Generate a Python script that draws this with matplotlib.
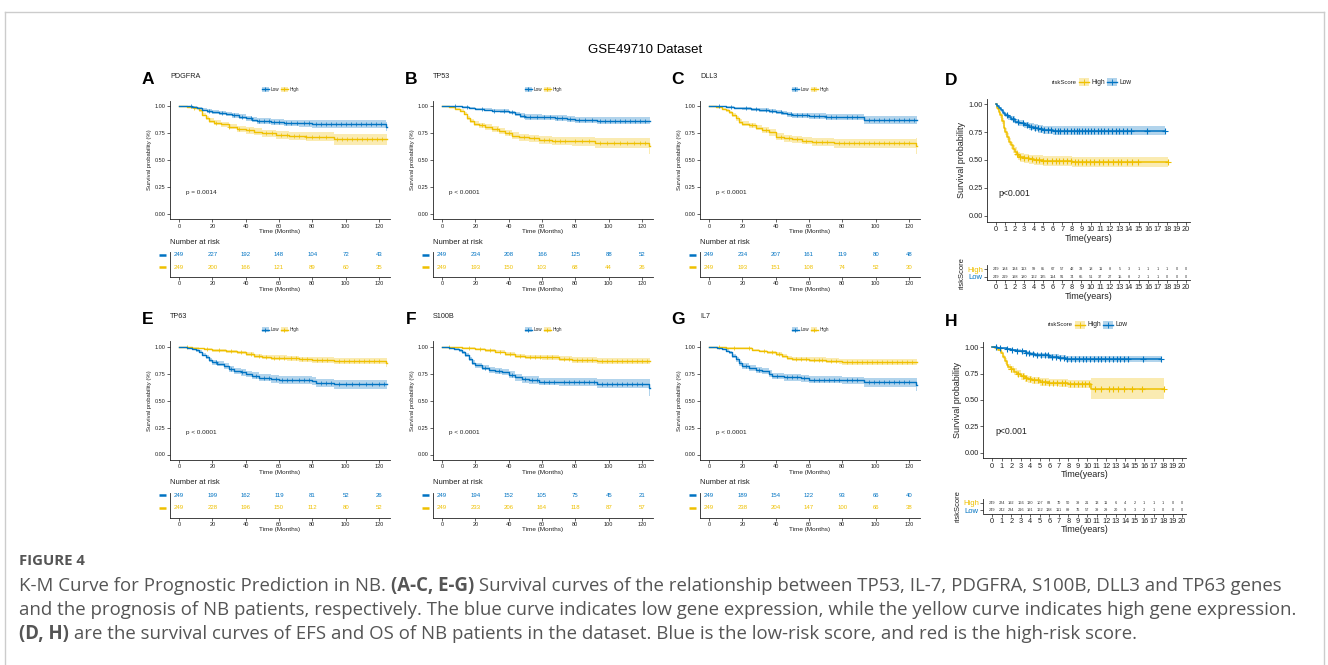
import matplotlib
matplotlib.use("Agg")
import matplotlib.pyplot as plt
from matplotlib.lines import Line2D
from matplotlib.patches import Rectangle
import numpy as np

# ---- data ---------------------------------------------------------------
MONTH_TICKS = [0, 20, 40, 60, 80, 100, 120]
YEAR_TICKS = list(range(21))
END_MONTHS = 125

# A  PDGFRA
A_low_t = [0, 4, 8, 11, 14, 17, 20, 24, 28, 32, 36, 40, 44, 47, 55, 63, 72, 80, 124]
A_low_s = [1.0, 0.996, 0.99, 0.98, 0.966, 0.955, 0.945, 0.935, 0.925, 0.914, 0.9, 0.886, 0.875, 0.857, 0.851, 0.845, 0.84, 0.832, 0.81]
A_low_ci = [0, 0.004, 0.008, 0.012, 0.015, 0.017, 0.018, 0.02, 0.021, 0.023, 0.024, 0.025, 0.027, 0.028, 0.029, 0.03, 0.032, 0.034, 0.045]
A_low_c = [7, 18, 26, 33, 38, 43, 48, 51, 54, 57, 60, 64, 67, 71, 75, 78, 82, 85, 88, 91, 94, 97, 100, 103, 106, 109, 112, 115, 118, 121]
A_high_t = [0, 5, 9, 12, 14, 16, 18, 21, 25, 30, 35, 40, 45, 50, 58, 66, 76, 93]
A_high_s = [1.0, 0.99, 0.98, 0.96, 0.92, 0.89, 0.865, 0.845, 0.83, 0.81, 0.79, 0.775, 0.762, 0.748, 0.732, 0.724, 0.715, 0.69]
A_high_ci = [0, 0.006, 0.009, 0.012, 0.017, 0.02, 0.022, 0.024, 0.025, 0.027, 0.028, 0.03, 0.031, 0.033, 0.035, 0.037, 0.04, 0.048]
A_high_c = [9, 22, 30, 36, 42, 52, 56, 61, 65, 69, 72, 76, 80, 84, 88, 95, 98, 101, 104, 107, 110, 113, 116, 119, 122]
A_risk_low = [249, 227, 192, 148, 104, 72, 43]
A_risk_high = [249, 200, 166, 121, 89, 60, 35]

# B  TP53
B_low_t = [0, 6, 12, 16, 20, 25, 30, 35, 40, 44, 47, 50, 60, 68, 75, 80, 93]
B_low_s = [1.0, 0.996, 0.99, 0.983, 0.975, 0.967, 0.958, 0.952, 0.94, 0.926, 0.91, 0.9, 0.895, 0.888, 0.878, 0.872, 0.865]
B_low_ci = [0, 0.004, 0.007, 0.009, 0.011, 0.013, 0.015, 0.016, 0.018, 0.021, 0.023, 0.025, 0.026, 0.027, 0.029, 0.03, 0.033]
B_low_c = [8, 15, 24, 31, 37, 42, 49, 53, 57, 61, 65, 69, 72, 77, 82, 86, 90, 95, 98, 101, 104, 107, 110, 113, 116, 119, 122]
B_high_t = [0, 4, 8, 11, 13, 15, 17, 19, 22, 26, 30, 34, 38, 42, 46, 52, 58, 66, 78, 92, 124]
B_high_s = [1.0, 0.99, 0.975, 0.955, 0.93, 0.89, 0.86, 0.835, 0.82, 0.805, 0.79, 0.77, 0.75, 0.725, 0.71, 0.70, 0.685, 0.678, 0.672, 0.656, 0.63]
B_high_ci = [0, 0.006, 0.01, 0.013, 0.016, 0.02, 0.022, 0.024, 0.025, 0.026, 0.027, 0.028, 0.03, 0.031, 0.032, 0.034, 0.035, 0.037, 0.04, 0.045, 0.07]
B_high_c = [24, 33, 40, 49, 55, 61, 64, 68, 71, 74, 80, 84, 88, 95, 99, 103, 107, 111, 115, 119, 122]
B_risk_low = [249, 234, 208, 166, 125, 88, 52]
B_risk_high = [249, 193, 150, 103, 68, 44, 26]

# C  DLL3
C_low_t = [0, 5, 10, 15, 20, 25, 30, 36, 40, 44, 47, 50, 60, 70, 80, 93]
C_low_s = [1.0, 0.996, 0.99, 0.984, 0.977, 0.97, 0.963, 0.955, 0.948, 0.935, 0.922, 0.915, 0.907, 0.9, 0.895, 0.87]
C_low_ci = [0, 0.004, 0.007, 0.009, 0.011, 0.013, 0.015, 0.016, 0.018, 0.02, 0.022, 0.024, 0.025, 0.027, 0.029, 0.035]
C_low_c = [6, 13, 22, 28, 34, 38, 43, 49, 53, 56, 59, 63, 66, 70, 73, 76, 83, 86, 89, 96, 99, 102, 105, 108, 111, 114, 117, 120, 123]
C_high_t = [0, 4, 8, 10, 12, 14, 16, 18, 20, 24, 28, 32, 36, 40, 45, 50, 56, 62, 75, 124]
C_high_s = [1.0, 0.99, 0.975, 0.96, 0.94, 0.915, 0.885, 0.855, 0.835, 0.82, 0.8, 0.78, 0.755, 0.715, 0.7, 0.69, 0.68, 0.67, 0.655, 0.63]
C_high_c = [26, 34, 43, 48, 53, 58, 64, 68, 71, 78, 81, 84, 87, 90, 93, 96, 99, 102, 105, 108, 111, 114, 117, 120]
C_high_ci = [0, 0.006, 0.01, 0.012, 0.014, 0.017, 0.02, 0.022, 0.024, 0.025, 0.026, 0.028, 0.03, 0.031, 0.032, 0.033, 0.035, 0.036, 0.04, 0.07]
C_risk_low = [249, 234, 207, 161, 119, 80, 48]
C_risk_high = [249, 193, 151, 108, 74, 52, 30]

# E  TP63
E_low_t = [0, 5, 8, 10, 12, 14, 16, 18, 20, 23, 27, 30, 33, 37, 40, 44, 48, 55, 60, 80, 82, 93]
E_low_s = [1.0, 0.99, 0.975, 0.965, 0.95, 0.925, 0.9, 0.875, 0.855, 0.84, 0.82, 0.795, 0.775, 0.76, 0.745, 0.73, 0.71, 0.70, 0.688, 0.68, 0.662, 0.652]
E_low_ci = [0, 0.006, 0.01, 0.012, 0.014, 0.016, 0.019, 0.021, 0.023, 0.024, 0.025, 0.027, 0.028, 0.029, 0.03, 0.031, 0.032, 0.034, 0.035, 0.038, 0.039, 0.042]
E_low_c = [22, 31, 38, 46, 51, 54, 58, 62, 65, 68, 72, 75, 78, 85, 88, 91, 96, 100, 104, 108, 112, 116, 120, 123]
E_high_t = [0, 8, 12, 15, 20, 28, 35, 40, 45, 50, 55, 65, 72, 80, 93, 124]
E_high_s = [1.0, 0.99, 0.982, 0.975, 0.963, 0.955, 0.945, 0.93, 0.915, 0.905, 0.898, 0.89, 0.882, 0.877, 0.868, 0.85]
E_high_ci = [0, 0.004, 0.006, 0.008, 0.011, 0.013, 0.015, 0.017, 0.019, 0.02, 0.021, 0.023, 0.024, 0.026, 0.029, 0.04]
E_high_c = [5, 17, 24, 31, 37, 43, 48, 52, 57, 60, 63, 67, 70, 74, 77, 83, 86, 89, 96, 99, 102, 105, 108, 111, 114, 117, 120]
E_risk_low = [249, 199, 162, 119, 81, 52, 26]
E_risk_high = [249, 228, 196, 150, 112, 80, 52]

# F  S100B
F_low_t = [0, 4, 7, 10, 12, 14, 16, 18, 20, 24, 28, 32, 36, 40, 44, 48, 52, 58, 70, 93, 124]
F_low_s = [1.0, 0.99, 0.98, 0.965, 0.945, 0.92, 0.885, 0.85, 0.825, 0.805, 0.785, 0.772, 0.765, 0.74, 0.715, 0.698, 0.69, 0.675, 0.668, 0.655, 0.62]
F_low_ci = [0, 0.006, 0.009, 0.012, 0.015, 0.018, 0.021, 0.023, 0.025, 0.026, 0.027, 0.028, 0.029, 0.03, 0.031, 0.032, 0.033, 0.035, 0.036, 0.04, 0.08]
F_low_c = [26, 34, 42, 50, 54, 57, 61, 64, 67, 73, 76, 79, 82, 85, 88, 91, 96, 99, 102, 105, 108, 111, 114, 117, 120]
F_high_t = [0, 6, 12, 20, 26, 32, 38, 44, 50, 60, 70, 78, 93]
F_high_s = [1.0, 0.995, 0.985, 0.975, 0.963, 0.95, 0.93, 0.915, 0.905, 0.9, 0.888, 0.876, 0.865]
F_high_ci = [0, 0.004, 0.007, 0.01, 0.012, 0.014, 0.016, 0.018, 0.02, 0.021, 0.023, 0.025, 0.03]
F_high_c = [4, 16, 23, 29, 35, 41, 47, 53, 56, 59, 63, 66, 73, 76, 81, 84, 87, 90, 96, 99, 102, 105, 108, 111, 114, 117, 120, 123]
F_risk_low = [249, 194, 152, 105, 75, 45, 21]
F_risk_high = [249, 233, 206, 164, 118, 87, 57]

# G  IL7
G_low_t = [0, 5, 8, 10, 12, 14, 16, 18, 20, 24, 28, 32, 36, 38, 45, 55, 60, 80, 93, 124]
G_low_s = [1.0, 0.99, 0.978, 0.962, 0.945, 0.915, 0.88, 0.845, 0.82, 0.8, 0.785, 0.77, 0.75, 0.725, 0.714, 0.705, 0.694, 0.686, 0.667, 0.645]
G_low_ci = [0, 0.006, 0.009, 0.012, 0.015, 0.018, 0.021, 0.023, 0.025, 0.026, 0.027, 0.028, 0.029, 0.03, 0.031, 0.033, 0.034, 0.036, 0.04, 0.06]
G_low_c = [22, 30, 41, 47, 50, 53, 57, 63, 66, 69, 72, 75, 78, 83, 86, 89, 96, 99, 102, 105, 108, 111, 114, 117, 120]
G_high_t = [0, 10, 20, 26, 30, 35, 40, 44, 47, 50, 60, 70, 78, 80]
G_high_s = [1.0, 0.99, 0.985, 0.972, 0.96, 0.945, 0.93, 0.912, 0.895, 0.886, 0.877, 0.87, 0.862, 0.855]
G_high_ci = [0, 0.004, 0.007, 0.009, 0.011, 0.013, 0.015, 0.017, 0.019, 0.02, 0.022, 0.024, 0.026, 0.028]
G_high_c = [6, 15, 24, 33, 38, 42, 52, 55, 58, 63, 66, 68, 73, 76, 83, 86, 89, 92, 95, 98, 101, 104, 107, 110, 113, 116, 119, 122]
G_risk_low = [249, 189, 154, 122, 93, 66, 40]
G_risk_high = [249, 238, 204, 147, 100, 66, 38]

# D  EFS by riskScore (years)
D_high_t = [0, 0.1, 0.2, 0.3, 0.4, 0.5, 0.7, 0.9, 1.0, 1.2, 1.4, 1.6, 1.8, 2.0, 2.2, 2.4, 2.6, 3.0, 3.5, 4.0, 5.0, 6.0, 8.0]
D_high_s = [1.0, 0.985, 0.97, 0.955, 0.93, 0.9, 0.85, 0.79, 0.755, 0.71, 0.665, 0.63, 0.6, 0.575, 0.555, 0.535, 0.525, 0.515, 0.505, 0.50, 0.494, 0.487, 0.482]
D_high_ci = [0, 0.01, 0.012, 0.014, 0.017, 0.02, 0.024, 0.027, 0.029, 0.031, 0.033, 0.035, 0.036, 0.037, 0.038, 0.039, 0.04, 0.041, 0.042, 0.043, 0.044, 0.045, 0.048]
D_high_c = [2.2, 2.6, 3.0, 3.4, 3.8, 4.2, 4.6, 5.0, 5.4, 5.9, 6.3, 6.7, 7.1, 7.5, 7.9, 8.3, 8.7, 9.1, 9.5, 9.9, 10.3, 10.8, 11.3, 11.8, 12.3, 12.8, 13.2, 13.8, 14.3, 14.9, 18.1]
D_high_end = 18.1
D_low_t = [0, 0.2, 0.4, 0.6, 0.8, 1.0, 1.3, 1.6, 2.0, 2.5, 3.0, 3.5, 4.0, 4.5, 5.0, 6.0]
D_low_s = [1.0, 0.985, 0.965, 0.945, 0.925, 0.905, 0.885, 0.87, 0.845, 0.83, 0.815, 0.8, 0.79, 0.78, 0.77, 0.762]
D_low_ci = [0, 0.008, 0.012, 0.015, 0.018, 0.02, 0.022, 0.024, 0.026, 0.028, 0.03, 0.032, 0.034, 0.036, 0.038, 0.04]
D_low_c = [1.2, 1.8, 2.4, 2.9, 3.3, 3.7, 4.1, 4.4, 4.8, 5.1, 5.5, 5.8, 6.2, 6.5, 6.8, 7.2, 7.5, 7.9, 8.2, 8.5, 8.8, 9.1, 9.4, 9.7, 10.0, 10.3, 10.7, 11.1, 11.4, 11.8, 12.2, 12.6, 13.0, 13.4, 13.8, 14.2, 15.9, 17.8]
D_low_end = 17.8
D_risk_high = [249, 184, 134, 113, 99, 85, 67, 57, 42, 33, 18, 11, 8, 5, 3, 1, 1, 1, 1, 0, 0]
D_risk_low = [249, 219, 198, 180, 162, 135, 114, 91, 74, 65, 51, 37, 27, 15, 8, 2, 1, 1, 0, 0, 0]

# H  OS by riskScore (years)
H_high_t = [0, 0.3, 0.6, 0.9, 1.1, 1.3, 1.5, 1.7, 2.0, 2.3, 2.6, 3.0, 3.4, 3.8, 4.2, 5.0, 6.0, 7.0, 8.0, 10.4]
H_high_s = [1.0, 0.99, 0.975, 0.95, 0.91, 0.87, 0.835, 0.815, 0.79, 0.77, 0.75, 0.725, 0.705, 0.695, 0.685, 0.672, 0.665, 0.658, 0.65, 0.605]
H_high_ci = [0, 0.006, 0.01, 0.015, 0.02, 0.024, 0.027, 0.029, 0.03, 0.031, 0.032, 0.033, 0.034, 0.035, 0.035, 0.036, 0.037, 0.038, 0.04, 0.1]
H_high_c = [2.0, 2.7, 3.2, 3.6, 4.0, 4.4, 4.8, 5.2, 5.6, 6.0, 6.4, 6.8, 7.3, 7.7, 8.2, 8.6, 9.0, 9.4, 9.8, 10.2, 10.8, 11.5, 12.3, 12.7, 13.2, 13.9, 14.7, 15.8, 18.1]
H_high_end = 18.1
H_low_t = [0, 0.5, 1.0, 1.5, 2.0, 2.5, 3.0, 3.5, 4.0, 4.5, 5.0, 6.0, 7.0, 7.8]
H_low_s = [1.0, 0.996, 0.99, 0.985, 0.977, 0.968, 0.96, 0.945, 0.935, 0.928, 0.922, 0.91, 0.9, 0.89]
H_low_ci = [0, 0.004, 0.006, 0.008, 0.01, 0.012, 0.014, 0.016, 0.018, 0.019, 0.02, 0.022, 0.024, 0.027]
H_low_c = [0.4, 0.8, 1.5, 2.1, 2.6, 3.1, 3.5, 3.9, 4.3, 4.7, 5.1, 5.5, 5.9, 6.3, 6.7, 7.1, 7.5, 7.9, 8.3, 8.7, 9.1, 9.5, 9.9, 10.3, 10.7, 11.1, 11.5, 11.9, 12.3, 12.7, 13.1, 13.5, 13.9, 14.3, 15.9, 17.8]
H_low_end = 17.8
H_risk_high = [249, 224, 192, 166, 130, 107, 83, 70, 50, 39, 21, 13, 11, 6, 4, 2, 1, 1, 1, 0, 0]
H_risk_low = [249, 242, 234, 216, 191, 162, 138, 111, 89, 76, 57, 39, 29, 20, 9, 3, 2, 1, 0, 0, 0]

# ---- drawing -------------------------------------------------------------
W, H = 1328, 665
BLUE = "#0073C2"
YELLOW = "#EFC000"
INK = "#222222"
plt.rcParams["font.family"] = ["Liberation Sans", "DejaVu Sans"]

fig = plt.figure(figsize=(W / 100, H / 100), dpi=100)


def fx(x):
    return x / W


def fy(y):
    return 1 - y / H


def add_ax(left, top, right, bottom):
    return fig.add_axes([fx(left), fy(bottom), (right - left) / W, (bottom - top) / H])


def text(x, y, s, **kw):
    kw.setdefault("va", "center")
    kw.setdefault("color", INK)
    return fig.text(fx(x), fy(y), s, **kw)


def style(ax, size):
    for side in ("top", "right"):
        ax.spines[side].set_visible(False)
    for side in ("left", "bottom"):
        ax.spines[side].set_linewidth(0.6)
        ax.spines[side].set_color(INK)
    ax.tick_params(length=2, width=0.5, pad=1, labelsize=size, colors=INK)


def km(ax, t, s, ci, cens, end, color, lw, ms, mew):
    t = np.append(t, end)
    s = np.append(s, s[-1])
    ci = np.append(ci, ci[-1])
    ax.fill_between(t, np.clip(s - ci, 0, 1), np.clip(s + ci, 0, 1),
                    step="post", color=color, alpha=0.3, lw=0)
    ax.step(t, s, where="post", color=color, lw=lw)
    cens = np.asarray(cens)
    idx = np.searchsorted(t, cens, side="right") - 1
    ax.plot(cens, s[idx], ls="none", marker="+", color=color, ms=ms, mew=mew)


def key(x, y, w, h, color, lw, ms):
    fig.add_artist(Rectangle((fx(x), fy(y + h / 2)), w / W, h / H, transform=fig.transFigure,
                             facecolor=color, alpha=0.3, lw=0))
    fig.add_artist(Line2D([fx(x), fx(x + w)], [fy(y), fy(y)], color=color, lw=lw,
                          transform=fig.transFigure))
    fig.add_artist(Line2D([fx(x + w / 2)], [fy(y)], marker="+", color=color, ms=ms, mew=0.6,
                          transform=fig.transFigure))


def month_panel(letter, gene, left, dy, low, high, pval, risk_low, risk_high):
    right = left + 220
    text(left - 22, 79.5 + dy, letter, fontsize=12.5, fontweight="bold", ha="center", color="black")
    text(left, 76 + dy, gene, fontsize=5.2, ha="left")
    cx = (left + right) / 2
    key(cx - 18.5, 89.3 + dy, 7, 5, BLUE, 1.0, 2.5)
    text(cx - 9.5, 89.3 + dy, "Low", fontsize=3.3, ha="left")
    key(cx + 0.5, 89.3 + dy, 7, 5, YELLOW, 1.0, 2.5)
    text(cx + 9.5, 89.3 + dy, "High", fontsize=3.3, ha="left")

    ax = add_ax(left, 100.6 + dy, right, 219.4 + dy)
    style(ax, 4)
    km(ax, *high, END_MONTHS, YELLOW, 1.0, 2.6, 0.5)
    km(ax, *low, END_MONTHS, BLUE, 1.0, 2.6, 0.5)
    ax.set_xlim(-5.4, 126.6)
    ax.set_ylim(-0.05, 1.05)
    ax.set_xticks(MONTH_TICKS)
    ax.set_yticks([0, 0.25, 0.5, 0.75, 1.0])
    ax.set_yticklabels(["0.00", "0.25", "0.50", "0.75", "1.00"])
    ax.set_xlabel("Time (Months)", fontsize=4.6, labelpad=0.5, color=INK)
    ax.set_ylabel("Survival probability (%)", fontsize=4.2, labelpad=2, color=INK)
    ax.text(4, 0.2, pval, fontsize=4.6, ha="left", va="center", color=INK)

    text(left, 242 + dy, "Number at risk", fontsize=5.5, ha="left")
    tb = add_ax(left, 252.4 + dy, right, 277 + dy)
    style(tb, 4)
    tb.set_xlim(-5.4, 126.6)
    tb.set_ylim(0.2, 2.2)
    tb.set_xticks(MONTH_TICKS)
    tb.set_yticks([])
    tb.set_xlabel("Time (Months)", fontsize=4.6, labelpad=0.5, color=INK)
    for row, vals, color in ((2, risk_low, BLUE), (1, risk_high, YELLOW)):
        for xt, n in zip(MONTH_TICKS, vals):
            tb.text(xt, row, str(n), fontsize=4.3, ha="center", va="center", color=color)
        tb.plot([-0.05, -0.018], [row, row], color=color, lw=1.8,
                transform=tb.get_yaxis_transform(), clip_on=False, solid_capstyle="butt")


def year_panel(letter, left, top, right, bottom, x0, tab_top, tab_bottom, letter_y, leg_y,
               low, high, risk_low, risk_high):
    text(951, letter_y, letter, fontsize=12.5, fontweight="bold", ha="center", color="black")
    text(left + 90, leg_y, "riskScore", fontsize=4.3, ha="right")
    key(left + 92, leg_y, 10, 8, YELLOW, 1.0, 4)
    text(left + 105, leg_y, "High", fontsize=4.8, ha="left")
    key(left + 120, leg_y, 10, 8, BLUE, 1.0, 4)
    text(left + 132, leg_y, "Low", fontsize=4.8, ha="left")

    ax = add_ax(left, top, right, bottom)
    style(ax, 5.3)
    km(ax, *high, YELLOW, 1.1, 4.5, 0.8)
    km(ax, *low, BLUE, 1.1, 4.5, 0.8)
    ax.set_xlim(x0, 20.4)
    ax.set_ylim(-0.054, 1.05)
    ax.set_xticks(YEAR_TICKS)
    ax.set_yticks([0, 0.25, 0.5, 0.75, 1.0])
    ax.set_yticklabels(["0.00", "0.25", "0.50", "0.75", "1.00"])
    ax.set_xlabel("Time(years)", fontsize=6.5, labelpad=0.5, color=INK)
    ax.set_ylabel("Survival probability", fontsize=6.5, labelpad=2, color=INK)
    ax.text(0.3, 0.2, "p<0.001", fontsize=6.3, ha="left", va="center", color=INK)

    tb = add_ax(left, tab_top, right, tab_bottom)
    style(tb, 5.3)
    tb.set_xlim(x0, 20.4)
    tb.set_ylim(0.55, 2.55)
    tb.set_xticks(YEAR_TICKS)
    tb.set_yticks([2, 1])
    tb.set_yticklabels(["High", "Low"], fontsize=5.5)
    tb.get_yticklabels()[0].set_color(YELLOW)
    tb.get_yticklabels()[1].set_color(BLUE)
    tb.set_xlabel("Time(years)", fontsize=6.5, labelpad=0.5, color=INK)
    tb.set_ylabel("riskScore", fontsize=5.5, labelpad=1, color=INK)
    for row, vals in ((2, risk_high), (1, risk_low)):
        for xt, n in zip(YEAR_TICKS, vals):
            tb.text(xt, row, str(n), fontsize=2.8, ha="center", va="center", color="#333333")


# frame and title
for xs, ys in (([5, 1324], [12, 12]), ([5, 5], [12, 665]), ([1324, 1324], [12, 665])):
    fig.add_artist(Line2D([fx(v) for v in xs], [fy(v) for v in ys], color="#cccccc", lw=1,
                          transform=fig.transFigure))
text(645, 50, "GSE49710 Dataset", fontsize=9.5, ha="center", color="black")

DY = 240.5
month_panel("A", "PDGFRA", 170, 0, (A_low_t, A_low_s, A_low_ci, A_low_c),
            (A_high_t, A_high_s, A_high_ci, A_high_c), "p = 0.0014", A_risk_low, A_risk_high)
month_panel("B", "TP53", 433, 0, (B_low_t, B_low_s, B_low_ci, B_low_c),
            (B_high_t, B_high_s, B_high_ci, B_high_c), "p < 0.0001", B_risk_low, B_risk_high)
month_panel("C", "DLL3", 700, 0, (C_low_t, C_low_s, C_low_ci, C_low_c),
            (C_high_t, C_high_s, C_high_ci, C_high_c), "p < 0.0001", C_risk_low, C_risk_high)
month_panel("E", "TP63", 170, DY, (E_low_t, E_low_s, E_low_ci, E_low_c),
            (E_high_t, E_high_s, E_high_ci, E_high_c), "p < 0.0001", E_risk_low, E_risk_high)
month_panel("F", "S100B", 433, DY, (F_low_t, F_low_s, F_low_ci, F_low_c),
            (F_high_t, F_high_s, F_high_ci, F_high_c), "p < 0.0001", F_risk_low, F_risk_high)
month_panel("G", "IL7", 700, DY, (G_low_t, G_low_s, G_low_ci, G_low_c),
            (G_high_t, G_high_s, G_high_ci, G_high_c), "p < 0.0001", G_risk_low, G_risk_high)

year_panel("D", 987, 98.7, 1190, 221.7, -0.9, 265.2, 280, 80.5, 82,
           (D_low_t, D_low_s, D_low_ci, D_low_c, D_low_end),
           (D_high_t, D_high_s, D_high_ci, D_high_c, D_high_end), D_risk_low, D_risk_high)
year_panel("H", 983, 342, 1186, 458.4, -0.98, 498.7, 513.5, 322, 325,
           (H_low_t, H_low_s, H_low_ci, H_low_c, H_low_end),
           (H_high_t, H_high_s, H_high_ci, H_high_c, H_high_end), H_risk_low, H_risk_high)

# caption, sized so the second line runs to the right margin
CAP = "#555555"
CAP_FONT = ["Open Sans", "DejaVu Sans"]
CAP_RIGHT = 1300
renderer = fig.canvas.get_renderer()

line1 = [("K-M Curve for Prognostic Prediction in NB. ", "normal"), ("(A-C, E-G)", "bold"),
         (" Survival curves of the relationship between TP53, IL-7, PDGFRA, S100B, DLL3 and TP63 genes", "normal")]
line2 = [("and the prognosis of NB patients, respectively. The blue curve indicates low gene expression, "
          "while the yellow curve indicates high gene expression.", "normal")]
line3 = [("(D, H)", "bold"), (" are the survival curves of EFS and OS of NB patients in the dataset. "
                              "Blue is the low-risk score, and red is the high-risk score.", "normal")]


def rich_line(x, y, parts, size):
    for s, weight in parts:
        t = text(x, y, s, fontsize=size, fontweight=weight, color=CAP, family=CAP_FONT, ha="left")
        x += t.get_window_extent(renderer).width
    return x


probe = [text(0, -50, s, fontsize=10, fontweight=w, family=CAP_FONT) for s, w in line2]
probe_w = sum(p.get_window_extent(renderer).width for p in probe)
for p in probe:
    p.remove()
cap_size = 10 * (CAP_RIGHT - 19) / probe_w

text(19, 561, "FIGURE 4", fontsize=cap_size * 0.8, fontweight="bold", color=CAP, family=CAP_FONT, ha="left")
rich_line(19, 586, line1, cap_size)
rich_line(19, 610, line2, cap_size)
rich_line(19, 634, line3, cap_size)

fig.savefig("out.png", dpi=100)
